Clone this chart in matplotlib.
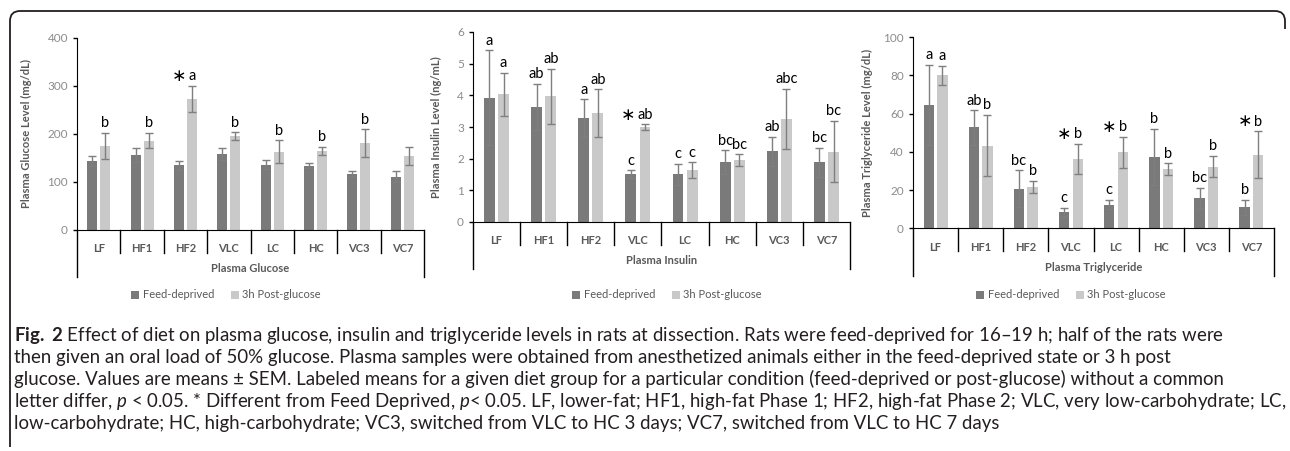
import numpy as np
import matplotlib
matplotlib.use('Agg')
import matplotlib.pyplot as plt
from matplotlib.lines import Line2D
from matplotlib.patches import PathPatch
from matplotlib.path import Path
from matplotlib import transforms

# data
cats = ['LF', 'HF1', 'HF2', 'VLC', 'LC', 'HC', 'VC3', 'VC7']

glu_fd = [144, 156, 135, 158, 136, 134, 117, 111]
glu_fd_sem = [10, 15, 9, 12, 9, 5, 6, 12]
glu_pg = [175, 186, 273, 196, 163, 165, 181, 154]
glu_pg_sem = [27, 16, 28, 8, 24, 8, 29, 19]
glu_fd_lab = ['', '', '', '', '', '', '', '']
glu_pg_lab = ['b', 'b', '*a', 'b', 'b', 'b', 'b', '']

ins_fd = [3.92, 3.63, 3.28, 1.51, 1.50, 1.89, 2.23, 1.88]
ins_fd_sem = [1.50, 0.73, 0.60, 0.12, 0.34, 0.37, 0.47, 0.47]
ins_pg = [4.04, 3.97, 3.43, 3.00, 1.64, 1.95, 3.25, 2.22]
ins_pg_sem = [0.68, 0.87, 0.76, 0.08, 0.24, 0.19, 0.95, 0.97]
ins_fd_lab = ['a', 'ab', 'a', 'c', 'c', 'bc', 'ab', 'bc']
ins_pg_lab = ['a', 'ab', 'ab', '*ab', 'c', 'bc', 'abc', 'bc']

tg_fd = [64.4, 52.8, 20.7, 8.5, 12.5, 37.4, 15.8, 11.0]
tg_fd_sem = [21.0, 9.0, 9.7, 2.3, 2.5, 14.8, 5.6, 4.0]
tg_pg = [80.0, 43.3, 21.6, 36.3, 39.7, 31.0, 32.3, 38.6]
tg_pg_sem = [5.0, 16.0, 3.3, 7.8, 8.1, 3.1, 5.6, 12.2]
tg_fd_lab = ['a', 'ab', 'bc', 'c', 'c', 'b', 'bc', 'b']
tg_pg_lab = ['a', 'b', 'b', '*b', '*b', 'b', 'b', '*b']

series_names = ['Feed-deprived', '3h Post-glucose']

W, H = 1290, 451
FD_COL = '#7a7a7a'
PG_COL = '#c9c9c9'
ERR_COL = '#7f7f7f'
TXT_GRAY = '#595959'
TICK_GRAY = '#8c8c8c'
chart_font = ['Lato', 'DejaVu Sans']

plt.rcParams['font.family'] = chart_font
plt.rcParams['mathtext.fontset'] = 'custom'
plt.rcParams['mathtext.rm'] = 'Lato'
plt.rcParams['mathtext.it'] = 'Lato:italic'
plt.rcParams['mathtext.bf'] = 'Lato:bold'

fig = plt.figure(figsize=(W / 100, H / 100), dpi=100)


def px_axes(left, right, top, bottom):
    return fig.add_axes([left / W, 1 - bottom / H, (right - left) / W, (bottom - top) / H])


def panel(ax, fd, fd_sem, pg, pg_sem, fd_lab, pg_lab, ymax, ystep, ylabel, group, legend_x):
    x = np.arange(len(cats))
    w = 0.23
    off = 0.15
    ax.bar(x - off, fd, w, color=FD_COL, label=series_names[0])
    ax.bar(x + off, pg, w, color=PG_COL, label=series_names[1])
    ax.errorbar(x - off, fd, yerr=fd_sem, fmt='none', ecolor=ERR_COL, elinewidth=1, capsize=3, capthick=1)
    ax.errorbar(x + off, pg, yerr=pg_sem, fmt='none', ecolor=ERR_COL, elinewidth=1, capsize=3, capthick=1)

    for xs, vals, sems, labs in [(x - off, fd, fd_sem, fd_lab), (x + off, pg, pg_sem, pg_lab)]:
        for xi, v, s, lab in zip(xs, vals, sems, labs):
            if not lab:
                continue
            star = lab.startswith('*')
            lab = lab.lstrip('*')
            ax.annotate(lab, (xi, v + s), xytext=(0, 4), textcoords='offset points',
                        ha='center', va='baseline', fontsize=10.5, color='black')
            if star:
                ax.annotate('\u2217', (xi, v + s), xytext=(-1.5 - 2.9 * len(lab), 3.5), textcoords='offset points',
                            ha='right', va='baseline', fontsize=12.5, color='black',
                            family=['DejaVu Sans'])

    ax.set_xlim(-0.5, len(cats) - 0.5)
    ax.set_ylim(0, ymax)
    ax.set_yticks(np.arange(0, ymax + ystep / 2, ystep))
    ax.tick_params(axis='y', colors=TICK_GRAY, labelsize=8.5, length=3, width=1)
    ax.tick_params(axis='y', color='black')
    ax.set_xticks(x, cats)
    ax.tick_params(axis='x', length=0, pad=9.5, labelsize=8, labelcolor=TXT_GRAY)
    for t in ax.get_xticklabels():
        t.set_fontweight('bold')
    for s in ['top', 'right']:
        ax.spines[s].set_visible(False)
    ax.spines['left'].set_color('black')
    ax.spines['bottom'].set_color('black')
    ax.set_ylabel(ylabel, fontsize=8, fontweight='bold', color=TXT_GRAY, labelpad=6)

    # category axis with group bracket (Excel style)
    hpx = ax.bbox.height
    tr = transforms.blended_transform_factory(ax.transData, ax.transAxes)
    for i in range(len(cats) + 1):
        xb = i - 0.5
        depth = 47 if i in (0, len(cats)) else 23
        ax.add_line(Line2D([xb, xb], [0, -depth / hpx], transform=tr, color='black', lw=1, clip_on=False))
    ax.text((len(cats) - 1) / 2, -39 / hpx, group, transform=tr, ha='center', va='center',
            fontsize=8, fontweight='bold', color=TXT_GRAY)

    ax.legend(loc='center', bbox_to_anchor=(legend_x / W, 1 - 295 / H), bbox_transform=fig.transFigure,
              ncol=2, frameon=False, fontsize=8, labelcolor=TXT_GRAY, handlelength=0.75,
              handleheight=0.75, handletextpad=0.3, columnspacing=1.5)


ax1 = px_axes(77, 424, 38, 230)
panel(ax1, glu_fd, glu_fd_sem, glu_pg, glu_pg_sem, glu_fd_lab, glu_pg_lab,
      400, 100, 'Plasma Glucose Level (mg/dL)', 'Plasma Glucose', 226)

ax2 = px_axes(473, 850, 32, 222)
panel(ax2, ins_fd, ins_fd_sem, ins_pg, ins_pg_sem, ins_fd_lab, ins_pg_lab,
      6, 1, 'Plasma Insulin Level (ng/mL)', 'Plasma Insulin', 667)

ax3 = px_axes(913, 1274, 37, 228.5)
panel(ax3, tg_fd, tg_fd_sem, tg_pg, tg_pg_sem, tg_fd_lab, tg_pg_lab,
      100, 20, 'Plasma Triglyceride Level (mg/dL)', 'Plasma Triglyceride', 1071)

ax1.yaxis.set_label_coords((32 - 77) / (424 - 77), 0.5)
ax2.yaxis.set_label_coords((442 - 473) / (850 - 473), 0.5)
ax3.yaxis.set_label_coords((873 - 913) / (1274 - 913), 0.5)

# caption, sized so the first line spans the same width as in the source
caption = [
    r'$\bf{Fig.}$ $\bf{2}$ Effect of diet on plasma glucose, insulin and triglyceride levels in rats at dissection. Rats were feed-deprived for 16–19 h; half of the rats were',
    'then given an oral load of 50% glucose. Plasma samples were obtained from anesthetized animals either in the feed-deprived state or 3 h post',
    'glucose. Values are means ± SEM. Labeled means for a given diet group for a particular condition (feed-deprived or post-glucose) without a common',
    r'letter differ, $\it{p}$ < 0.05. * Different from Feed Deprived, $\it{p}$< 0.05. LF, lower-fat; HF1, high-fat Phase 1; HF2, high-fat Phase 2; VLC, very low-carbohydrate; LC,',
    'low-carbohydrate; HC, high-carbohydrate; VC3, switched from VLC to HC 3 days; VC7, switched from VLC to HC 7 days',
]
cap_font = ['Lato', 'DejaVu Sans']
probe = fig.text(0, 0, caption[0], fontsize=10, family=cap_font)
renderer = fig.canvas.get_renderer()
cap_size = 10 * 1214 / probe.get_window_extent(renderer).width
probe.remove()
for i, line in enumerate(caption):
    fig.text(14 / W, 1 - (335 + 22 * i) / H, line, ha='left', va='center', fontsize=cap_size,
             family=cap_font, color='#231f20')

# rounded frame around the figure
r = 10
L, T, R, B = 10, 11, 1285, 447
verts = [(L, B), (L, T + r), (L, T), (L + r, T), (R - r, T), (R, T), (R, T + r), (R, T + r + 8)]
codes = [Path.MOVETO, Path.LINETO, Path.CURVE3, Path.CURVE3, Path.LINETO, Path.CURVE3, Path.CURVE3, Path.LINETO]
verts = [(vx / W, 1 - vy / H) for vx, vy in verts]
fig.add_artist(PathPatch(Path(verts, codes), fill=False, lw=1.3, edgecolor='#231f20',
                         transform=fig.transFigure))

fig.savefig('out.png', dpi=100)
